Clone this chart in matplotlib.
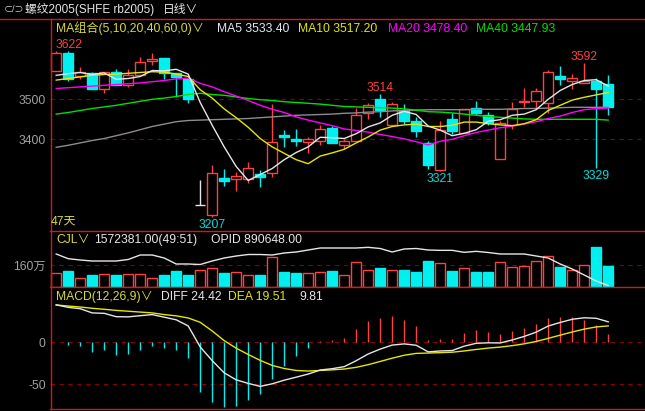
import matplotlib
matplotlib.use('Agg')
import matplotlib.pyplot as plt
from matplotlib.patches import Rectangle
from matplotlib.lines import Line2D

plt.rcParams['font.family'] = ['Liberation Sans', 'Noto Sans CJK SC', 'DejaVu Sans']

W, H = 645, 411

# daily candles, rb2005
opens = [3571, 3615, 3558, 3565, 3527, 3568, 3535, 3561, 3595, 3603,
         3565, 3551, 3237, 3212, 3303, 3300, 3301, 3313, 3316, 3411,
         3401, 3393, 3395, 3428, 3385, 3395, 3465, 3501, 3435, 3471,
         3445, 3390, 3323, 3450, 3415, 3478, 3460, 3351, 3436, 3494,
         3495, 3491, 3558, 3545, 3541, 3546, 3538]
highs = [3622, 3620, 3580, 3568, 3568, 3576, 3575, 3606, 3615, 3603,
         3565, 3552, 3298, 3335, 3326, 3318, 3343, 3323, 3488, 3423,
         3425, 3405, 3435, 3433, 3401, 3478, 3491, 3514, 3493, 3488,
         3455, 3396, 3445, 3465, 3476, 3495, 3468, 3445, 3493, 3528,
         3528, 3573, 3583, 3563, 3592, 3553, 3561]
lows = [3570, 3546, 3551, 3526, 3516, 3535, 3531, 3561, 3585, 3551,
        3505, 3490, 3237, 3207, 3283, 3271, 3291, 3281, 3306, 3381,
        3383, 3366, 3386, 3390, 3375, 3395, 3451, 3456, 3435, 3438,
        3406, 3326, 3321, 3413, 3415, 3460, 3435, 3351, 3426, 3481,
        3476, 3466, 3535, 3526, 3541, 3329, 3461]
closes = [3615, 3551, 3568, 3527, 3568, 3535, 3561, 3593, 3601, 3566,
          3556, 3500, 3237, 3315, 3297, 3308, 3328, 3307, 3393, 3405,
          3395, 3400, 3426, 3390, 3395, 3460, 3485, 3473, 3488, 3446,
          3420, 3336, 3423, 3421, 3476, 3466, 3440, 3440, 3476, 3496,
          3520, 3568, 3550, 3553, 3546, 3526, 3481]

ma5 = [3560, 3564, 3567, 3562, 3566, 3550, 3552, 3557, 3572, 3571,
       3575, 3563, 3492, 3435, 3381, 3332, 3297, 3312, 3327, 3349,
       3367, 3381, 3405, 3404, 3402, 3414, 3431, 3441, 3460, 3470,
       3462, 3433, 3423, 3409, 3415, 3424, 3445, 3449, 3460, 3463,
       3474, 3500, 3522, 3537, 3547, 3549, 3533]
ma10 = [3548, 3552, 3556, 3560, 3562, 3563, 3565, 3567, 3569, 3568,
        3563, 3557, 3524, 3503, 3476, 3454, 3430, 3402, 3381, 3365,
        3349, 3339, 3358, 3366, 3375, 3391, 3406, 3423, 3432, 3436,
        3438, 3432, 3432, 3435, 3443, 3443, 3439, 3436, 3434, 3439,
        3449, 3472, 3485, 3498, 3505, 3511, 3517]
ma20 = [3527, 3529, 3531, 3533, 3535, 3537, 3539, 3541, 3544, 3547,
        3551, 3553, 3540, 3531, 3519, 3508, 3497, 3485, 3475, 3467,
        3456, 3448, 3441, 3434, 3426, 3422, 3418, 3412, 3407, 3401,
        3394, 3386, 3395, 3400, 3409, 3417, 3423, 3429, 3433, 3438,
        3444, 3452, 3458, 3467, 3474, 3477, 3478]
ma40 = [3463, 3467, 3472, 3477, 3481, 3485, 3490, 3495, 3500, 3503,
        3507, 3512, 3515, 3512, 3510, 3506, 3502, 3499, 3497, 3494,
        3492, 3490, 3488, 3485, 3482, 3481, 3480, 3479, 3478, 3476,
        3473, 3469, 3468, 3466, 3463, 3460, 3457, 3455, 3453, 3451,
        3450, 3450, 3450, 3450, 3450, 3450, 3448]
ma60 = [3380, 3385, 3391, 3397, 3402, 3409, 3416, 3424, 3432, 3438,
        3444, 3447, 3448, 3449, 3450, 3451, 3452, 3454, 3456, 3458,
        3460, 3461, 3462, 3463, 3465, 3466, 3468, 3469, 3471, 3472,
        3473, 3474, 3474, 3474, 3474, 3475, 3475, 3475, 3476, 3477,
        3477, 3478, 3479, 3480, 3480, 3480, 3480]

# volume (百万手) and open interest (千手)
volume = [1.00, 1.17, 0.63, 0.87, 0.93, 0.87, 0.93, 0.93, 0.63, 0.87,
          1.17, 0.87, 1.23, 1.38, 1.02, 1.10, 0.85, 0.87, 2.24, 1.10,
          1.02, 1.00, 1.10, 1.17, 0.85, 1.82, 1.23, 1.40, 1.23, 1.25,
          1.10, 1.92, 1.75, 1.17, 1.38, 1.10, 1.10, 1.82, 1.45, 1.52,
          1.90, 2.27, 1.45, 1.23, 1.60, 2.97, 1.572381]
opid = [1269, 1213, 1197, 1185, 1185, 1185, 1203, 1257, 1257, 1221,
        1149, 1149, 1143, 1185, 1221, 1245, 1263, 1263, 1257, 1281,
        1293, 1317, 1341, 1341, 1341, 1341, 1349, 1335, 1293, 1329,
        1335, 1317, 1313, 1313, 1289, 1301, 1287, 1269, 1269, 1269,
        1245, 1221, 1149, 1089, 1017, 945, 890.648]

# MACD(12,26,9)
diff = [44.6, 41.6, 40.0, 35.0, 34.5, 30.5, 30.3, 31.7, 33.0, 29.9,
        26.8, 19.5, -5.5, -21.8, -36.3, -44.7, -48.9, -52.5, -49.4, -45.1,
        -41.5, -37.8, -33.0, -31.4, -29.0, -21.9, -13.9, -8.1, -3.3, -1.9,
        -3.5, -11.4, -10.3, -9.8, -4.6, -1.2, -0.6, -0.8, 2.8, 7.0,
        12.1, 19.4, 23.6, 27.4, 29.2, 28.6, 24.42]
dea = [44.4, 43.2, 42.0, 40.5, 39.3, 38.0, 37.0, 36.0, 35.0, 33.0,
       31.5, 29.0, 23.8, 13.5, 2.0, -7.0, -14.5, -21.5, -27.5, -31.2,
       -33.5, -34.2, -33.5, -32.8, -31.8, -29.8, -26.6, -22.8, -18.9, -15.4,
       -13.2, -12.8, -12.3, -11.8, -10.3, -8.5, -6.9, -5.7, -4.0, -1.8,
       1.0, 4.7, 8.5, 12.3, 15.7, 18.3, 19.51]
macd = [0.5, -3.2, -4, -11.1, -9.5, -15.1, -13.5, -8.7, -4, -6.3,
        -9.5, -19, -58.7, -70.6, -76.6, -75.4, -68.7, -61.9, -43.7, -27.8,
        -15.9, -7.1, 1, 2.8, 5.6, 15.9, 25.4, 29.4, 31.3, 27,
        19.4, 2.8, 4, 4, 11.5, 14.7, 12.7, 9.9, 13.5, 17.5,
        22.2, 29.4, 30.2, 30.2, 27, 20.6, 9.81]

hi_marks = [0, 27, 44]
lo_marks = [13, 32, 45]

BG = 'black'
RED = '#ff4040'
CYAN = '#00f0f0'
AXRED = '#c81e1e'
GRID = '#8c0000'
GRAY = '#a0a0a0'
YEL = '#d8d83c'
WHITE = '#e6e6e6'
FS = 8.7

n = len(closes)
xs = list(range(n))
bw = 0.85


def fx(px):
    return px / W


def fy(py):
    return 1 - py / H


fig = plt.figure(figsize=(W / 100, H / 100), dpi=100, facecolor=BG)


def panel(top, bottom):
    ax = fig.add_axes([fx(50), fy(bottom), fx(645 - 50), (bottom - top) / H])
    ax.set_facecolor(BG)
    for s in ax.spines.values():
        s.set_visible(False)
    ax.set_xlim((50 - 56.2) / 12, (645 - 56.2) / 12)
    ax.set_xticks([])
    ax.tick_params(axis='y', length=0, colors=GRAY, labelsize=FS, pad=3)
    return ax


# ---- main price panel
ax = panel(20, 230.7)
ax.set_ylim(3171.5, 3698.25)
ax.set_yticks([3400, 3500])
ax.set_yticklabels(['3400', '3500'])
for v in [3400, 3500]:
    ax.axhline(v, color=GRID, lw=0.8, ls=(0, (4, 4)), zorder=0)

for i in xs:
    o, h, l, c = opens[i], highs[i], lows[i], closes[i]
    if c > o:
        col = RED
    elif c < o:
        col = CYAN
    else:
        col = WHITE
    ax.vlines(i, l, h, color=col, lw=1, zorder=2)
    if c > o:
        ax.add_patch(Rectangle((i - bw / 2, o), bw, c - o, facecolor=BG,
                               edgecolor=RED, lw=1, zorder=2.5))
    elif c < o:
        ax.add_patch(Rectangle((i - bw / 2, c), bw, o - c, facecolor=CYAN,
                               edgecolor=CYAN, lw=1, zorder=2.5))
    else:
        ax.hlines(c, i - bw / 2, i + bw / 2, color=col, lw=1, zorder=2.5)

ax.plot(xs, ma60, color='#8c8c8c', lw=1, zorder=3)
ax.plot(xs, ma40, color='#00e000', lw=1, zorder=3)
ax.plot(xs, ma20, color='#ff00ff', lw=1, zorder=3)
ax.plot(xs, ma10, color='#e6e600', lw=1, zorder=3)
ax.plot(xs, ma5, color=WHITE, lw=1, zorder=3)

for i in hi_marks:
    ax.annotate(str(highs[i]), (i, highs[i]), xytext=(-1 if i == 0 else 0, 6),
                textcoords='offset pixels', ha='left' if i == 0 else 'center',
                va='center', color=RED, fontsize=FS)
for i in lo_marks:
    ax.annotate(str(lows[i]), (i, lows[i]), xytext=(0, -8),
                textcoords='offset pixels', ha='center', va='center',
                color='#00dcdc', fontsize=FS)

# ---- volume panel
axv = panel(230.7, 286.7)
axv.set_ylim(0, 4.19)
axv.set_yticks([1.6])
axv.set_yticklabels(['160万'])
axv.axhline(1.6, color=GRID, lw=0.8, ls=(0, (4, 4)), zorder=0)
up = [closes[i] >= opens[i] for i in xs]
axv.bar(xs, volume, width=bw, color=[BG if u else CYAN for u in up],
        edgecolor=[RED if u else CYAN for u in up], lw=1, zorder=2)
axo = axv.twinx()
axo.set_ylim(876.6, 1548.6)
axo.axis('off')
axo.plot(xs, opid, color=WHITE, lw=1)

# ---- MACD panel
axm = panel(286.7, 409)
axm.set_ylim(-79.4, 66.2)
axm.set_yticks([-50, 0])
axm.set_yticklabels(['-50', '0'])
for v in [0, -50]:
    axm.axhline(v, color=GRID, lw=0.8, ls=(0, (4, 4)), zorder=0)
axm.vlines(xs, 0, macd, colors=[RED if m > 0 else CYAN for m in macd], lw=1, zorder=2)
axm.plot(xs, dea, color='#e6e600', lw=1, zorder=3)
axm.plot(xs, diff, color=WHITE, lw=1, zorder=3)

# ---- frame lines
def fline(x0, y0, x1, y1):
    fig.add_artist(Line2D([fx(x0), fx(x1)], [fy(y0), fy(y1)], color=AXRED, lw=1))


fline(0, 19.5, 645, 19.5)
fline(50.5, 19.5, 50.5, 409)
fline(50, 230.7, 645, 230.7)
fline(50, 286.7, 645, 286.7)
fline(50, 409, 645, 409)

# ---- texts
def label(x, y, s, color, size=FS):
    fig.text(fx(x), fy(y), s, color=color, fontsize=size, ha='left', va='center')


label(4, 9.5, '⊂/⊃', '#c8c8c8', 6.5)
label(25, 9.5, '螺纹2005(SHFE rb2005)', WHITE, 8.5)
label(163, 9.5, '日线∨', WHITE, 8.5)

label(56, 28.5, 'MA组合(5,10,20,40,60,0)∨', YEL)
label(217, 28.5, 'MA5 3533.40', '#e0e6f0')
label(298, 28.5, 'MA10 3517.20', '#e6e600')
label(388, 28.5, 'MA20 3478.40', '#ff00ff')
label(476, 28.5, 'MA40 3447.93', '#00e000')
label(51, 221, '47天', YEL)

label(56, 240, 'CJL∨', YEL)
label(94, 240, '1572381.00(49:51)', WHITE)
label(211, 240, 'OPID 890648.00', WHITE)

label(56, 296.7, 'MACD(12,26,9)∨', YEL)
label(161, 296.7, 'DIFF 24.42', WHITE)
label(228, 296.7, 'DEA 19.51', '#e6e600')
label(299, 296.7, '9.81', WHITE)

fig.savefig('out.png', dpi=100, facecolor=BG)
